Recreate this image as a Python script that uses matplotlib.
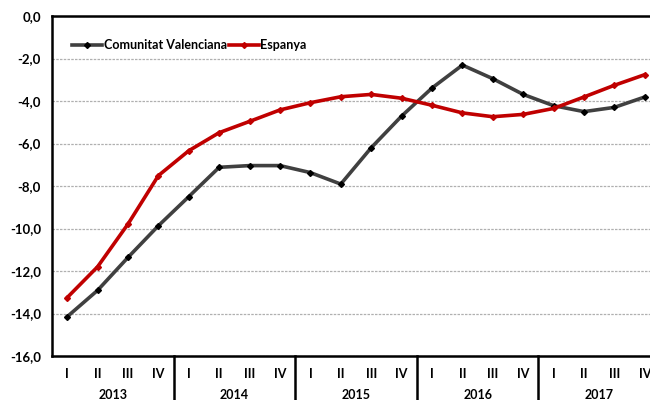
import matplotlib
matplotlib.use("Agg")
import matplotlib.pyplot as plt
import numpy as np
from matplotlib.transforms import blended_transform_factory

plt.rcParams['font.family'] = ['Lato', 'DejaVu Sans']
plt.rcParams['font.weight'] = 'bold'

years = ["2013", "2014", "2015", "2016", "2017"]
quarters = ["I", "II", "III", "IV"]
cv = [-14.15, -12.91, -11.36, -9.87,
      -8.50, -7.12, -7.04, -7.04,
      -7.37, -7.91, -6.20, -4.71,
      -3.39, -2.31, -2.95, -3.69,
      -4.22, -4.50, -4.30, -3.81]
esp = [-13.25, -11.80, -9.79, -7.51,
       -6.34, -5.49, -4.96, -4.42,
       -4.08, -3.80, -3.69, -3.87,
       -4.20, -4.56, -4.74, -4.63,
       -4.35, -3.81, -3.26, -2.76]
series_names = ["Comunitat Valenciana", "Espanya"]

fig = plt.figure(figsize=(6.5, 4), dpi=100)
ax = fig.add_axes([52/650, 44/400, 608/650, 340/400])

x = np.arange(len(cv))
ax.plot(x, cv, color="#404040", lw=2.6, marker="D", ms=3, mfc="black", mec="black",
        label=series_names[0], zorder=3)
ax.plot(x, esp, color="#C00000", lw=2.6, marker="D", ms=3, mfc="#C00000", mec="#C00000",
        label=series_names[1], zorder=3)

ax.set_xlim(-0.5, len(cv) - 0.5)
ax.set_ylim(-16, 0)
yt = np.arange(-16, 0.1, 2)
ax.set_yticks(yt)
ax.set_yticklabels([f"{v:.1f}".replace(".", ",") for v in yt], fontsize=9.5, fontweight="bold")
ax.tick_params(axis="y", length=0, pad=8)
ax.yaxis.grid(True, color="#B0B0B0", ls=(0, (2, 1)), lw=0.9)
ax.set_axisbelow(True)

ax.set_xticks(x)
ax.set_xticklabels(quarters * len(years), fontsize=9, fontweight="bold")
ax.tick_params(axis="x", length=0, pad=9)

for s in ["top", "left", "bottom", "right"]:
    ax.spines[s].set_linewidth(1.8)
    ax.spines[s].set_color("black")

trans = blended_transform_factory(ax.transData, ax.transAxes)
for i in range(1, len(years)):
    ax.plot([4*i - 0.5, 4*i - 0.5], [0, -0.2], transform=trans, color="black",
            lw=1.8, clip_on=False)
for i, yr in enumerate(years):
    ax.text(4*i + 1.5, -0.115, yr, transform=trans, ha="center", va="center",
            fontsize=9, fontweight="bold")

ax.legend(loc="upper left", bbox_to_anchor=(0.015, 0.965), frameon=False,
          handlelength=2.4, handletextpad=0.1, columnspacing=0.2, ncol=2,
          prop={"weight": "bold", "size": 9})

fig.savefig("out.png", dpi=100)
